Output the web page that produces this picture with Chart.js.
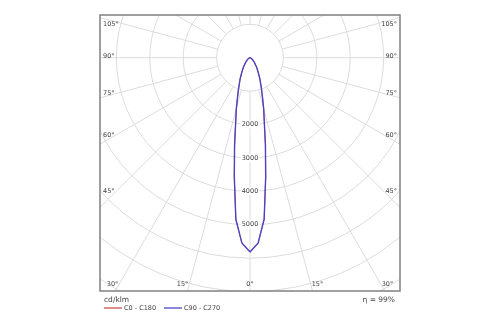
<!DOCTYPE html>
<html>
<head>
<meta charset="utf-8">
<script src="https://cdn.jsdelivr.net/npm/chart.js@4/dist/chart.umd.min.js"></script>
<style>
  html, body { margin: 0; padding: 0; background: #fff; }
  #wrap { width: 500px; height: 325px; position: relative; }
</style>
</head>
<body>
<div id="wrap"><canvas id="ldc"></canvas></div>
<script>
// Luminous intensity (cd/klm) by gamma angle, symmetric luminaire
const gammaDeg = [0, 2.5, 5, 7.5, 10, 12.5, 15, 17.5, 20, 25, 30, 35, 40, 45, 50, 60, 70, 80, 90];
const c0c180  = [5820, 5560, 4860, 3600, 2660, 1980, 1580, 1240, 1010, 700, 480, 340, 230, 170, 120, 60, 25, 8, 0];
const c90c270 = [5820, 5560, 4860, 3600, 2660, 1980, 1580, 1240, 1010, 700, 480, 340, 230, 170, 120, 60, 25, 8, 0];

// Grid
const ringValues = [1000, 2000, 3000, 4000, 5000, 6000, 7000, 8000, 9000];
const ringLabels = [2000, 3000, 4000, 5000];
const spokeAngles = [];
for (let a = 0; a < 360; a += 15) spokeAngles.push(a);
const angleLabels = [0, 15, 30, 45, 60, 75, 90, 105];

const unitLabel = 'cd/klm';
const efficiency = 'η = 99%';

const rad = d => d * Math.PI / 180;

// one C-plane pair -> outline from the left half to the right half
function toPoints(vals) {
  const left = gammaDeg.map((g, i) => ({ x: -vals[i] * Math.sin(rad(g)), y: -vals[i] * Math.cos(rad(g)) })).reverse();
  const right = gammaDeg.slice(1).map((g, i) => ({ x: vals[i + 1] * Math.sin(rad(g)), y: -vals[i + 1] * Math.cos(rad(g)) }));
  return left.concat(right);
}

const polarGrid = {
  id: 'polarGrid',
  beforeDatasetsDraw(chart) {
    const { ctx, chartArea: ca, scales: { x, y } } = chart;
    const cx = x.getPixelForValue(0), cy = y.getPixelForValue(0);
    const px = v => x.getPixelForValue(v) - cx;

    ctx.save();
    ctx.beginPath();
    ctx.rect(ca.left, ca.top, ca.right - ca.left, ca.bottom - ca.top);
    ctx.clip();
    ctx.strokeStyle = '#dcdcdc';
    ctx.lineWidth = 1;

    ringValues.forEach(v => {
      ctx.beginPath();
      ctx.arc(cx, cy, px(v), 0, Math.PI * 2);
      ctx.stroke();
    });

    const r0 = ringValues[0], r1 = ringValues[ringValues.length - 1];
    spokeAngles.forEach(a => {
      const s = Math.sin(rad(a)), c = Math.cos(rad(a));
      ctx.beginPath();
      ctx.moveTo(x.getPixelForValue(r0 * s), y.getPixelForValue(-r0 * c));
      ctx.lineTo(x.getPixelForValue(r1 * s), y.getPixelForValue(-r1 * c));
      ctx.stroke();
    });
    ctx.restore();

    // intensity values along the 0° axis
    ctx.save();
    ctx.font = '6.5px "DejaVu Sans", sans-serif';
    ctx.textAlign = 'center';
    ctx.textBaseline = 'middle';
    ringLabels.forEach(v => {
      const ly = y.getPixelForValue(-v);
      const w = ctx.measureText(String(v)).width;
      ctx.fillStyle = '#fff';
      ctx.fillRect(cx - w / 2 - 1, ly - 4, w + 2, 8);
      ctx.fillStyle = '#444';
      ctx.fillText(String(v), cx, ly);
    });

    // angle labels on the frame
    const inset = 16;
    angleLabels.forEach(g => {
      const t = Math.tan(rad(g));
      if (g <= 30) {
        const ly = ca.bottom - 7;
        const dx = (ly - cy) * t;
        if (g === 0) {
          ctx.textAlign = 'center';
          ctx.fillText(g + '°', cx, ly);
        } else {
          ctx.textAlign = 'right';
          ctx.fillText(g + '°', cx - dx - 1, ly);
          ctx.textAlign = 'left';
          ctx.fillText(g + '°', cx + dx + 1, ly);
        }
      } else {
        const half = (ca.right - ca.left) / 2 - inset;
        let ly = g === 90 ? cy - 1.5 : cy + half / t;
        ly = Math.max(ly, ca.top + 9);
        ctx.textAlign = 'left';
        ctx.fillText(g + '°', ca.left + 3, ly);
        ctx.textAlign = 'right';
        ctx.fillText(g + '°', ca.right - 3, ly);
      }
    });
    ctx.restore();
  },
  afterDraw(chart) {
    const { ctx, chartArea: ca } = chart;
    ctx.save();
    ctx.strokeStyle = '#808080';
    ctx.lineWidth = 1.5;
    ctx.strokeRect(ca.left, ca.top, ca.right - ca.left, ca.bottom - ca.top);

    // legend under the frame
    ctx.fillStyle = '#444';
    ctx.textBaseline = 'middle';
    ctx.font = '7.5px "DejaVu Sans", sans-serif';
    ctx.textAlign = 'left';
    ctx.fillText(unitLabel, ca.left + 4, ca.bottom + 9.5);
    ctx.textAlign = 'right';
    ctx.fillText(efficiency, ca.right - 5, ca.bottom + 9.5);

    ctx.font = '6.5px "DejaVu Sans", sans-serif';
    ctx.textAlign = 'left';
    let lx = ca.left + 4;
    chart.data.datasets.forEach(ds => {
      ctx.strokeStyle = ds.legendColor;
      ctx.lineWidth = 2;
      ctx.beginPath();
      ctx.moveTo(lx, ca.bottom + 17);
      ctx.lineTo(lx + 18, ca.bottom + 17);
      ctx.stroke();
      ctx.fillText(ds.label, lx + 20, ca.bottom + 17);
      lx += 60;
    });
    ctx.restore();
  }
};

new Chart(document.getElementById('ldc'), {
  type: 'scatter',
  data: {
    datasets: [
      // C90 - C270 sits on top of C0 - C180 (lower order = drawn last)
      { label: 'C0 - C180', data: toPoints(c0c180), borderColor: '#d84a4a', legendColor: '#e08a8a', borderWidth: 0.8, order: 2 },
      { label: 'C90 - C270', data: toPoints(c90c270), borderColor: '#5140c0', legendColor: '#8a86d8', borderWidth: 1.4, order: 1 }
    // tiny tension keeps the line off Chart.js's x-sorted fast path (the outline doubles back in x)
    ].map(ds => Object.assign(ds, { showLine: true, pointRadius: 0, tension: 0.0001, fill: false }))
  },
  options: {
    responsive: true,
    maintainAspectRatio: false,
    animation: false,
    layout: { padding: { left: 100, right: 100, top: 15, bottom: 34 } },
    scales: {
      x: { type: 'linear', min: -4490, max: 4490, display: false },
      y: { type: 'linear', min: -6990, max: 1280, display: false }
    },
    plugins: { legend: { display: false }, tooltip: { enabled: false } }
  },
  plugins: [polarGrid]
});
</script>
</body>
</html>
